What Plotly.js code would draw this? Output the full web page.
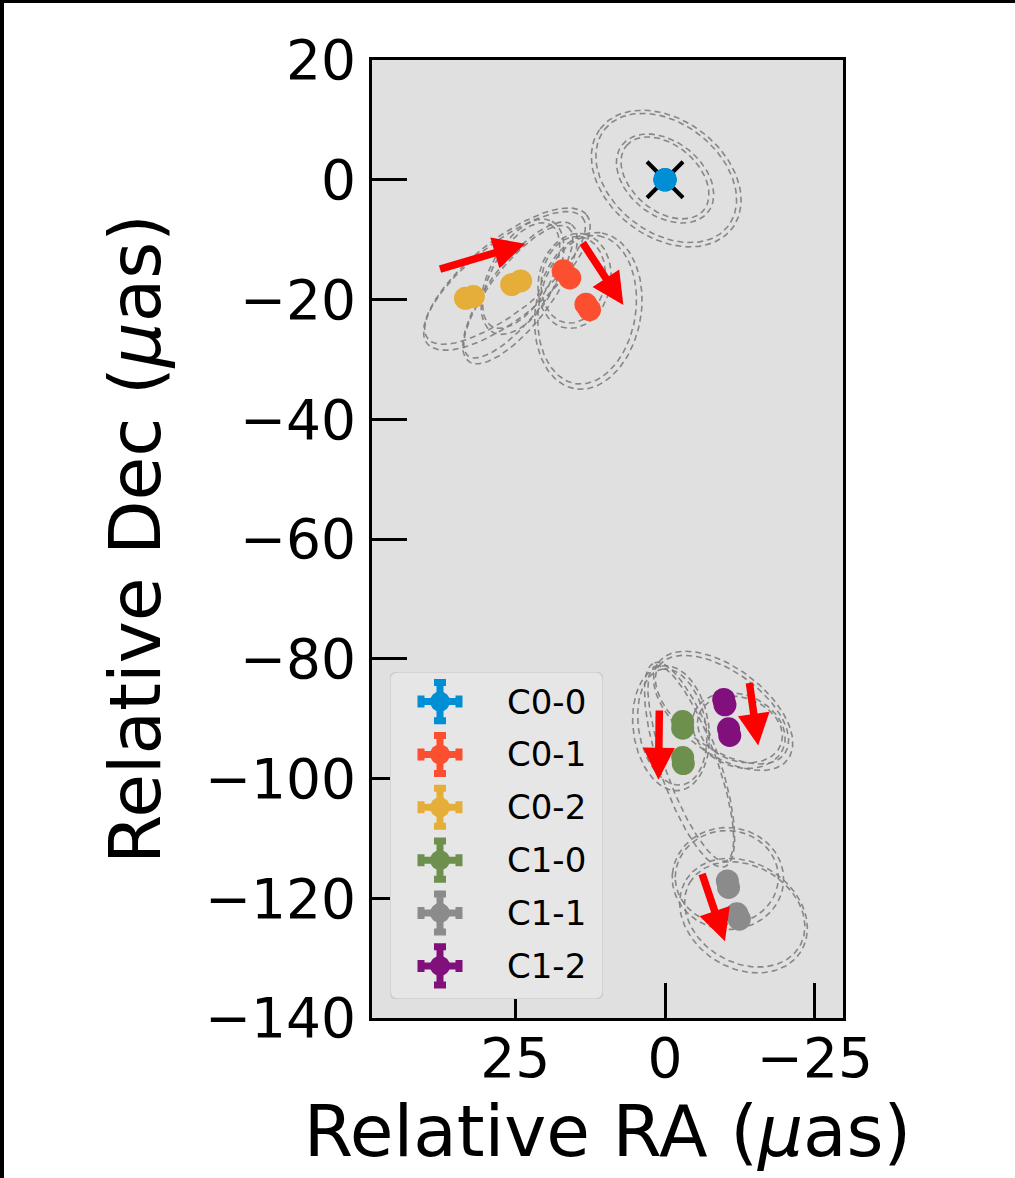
<!DOCTYPE html>
<html>
<head>
<meta charset="utf-8">
<script src="https://cdn.plot.ly/plotly-3.0.1.min.js"></script>
<style>
  html, body { margin: 0; padding: 0; background: #fff; }
  #frame { position: relative; width: 1015px; height: 1178px; overflow: hidden; }
  #chart { position: absolute; left: 0; top: 0; width: 1015px; height: 1178px; }
  .edge { position: absolute; background: #000; z-index: 5; }
</style>
</head>
<body>
<div id="frame">
  <div id="chart"></div>
  <div class="edge" style="left:0;top:0;width:4px;height:1178px;"></div>
  <div class="edge" style="left:0;top:0;width:1015px;height:3px;"></div>
</div>
<script>
// Component labels and colours
const components = ['C0-0', 'C0-1', 'C0-2', 'C1-0', 'C1-1', 'C1-2'];
const colors = ['#008fd5', '#fc4f30', '#e5ae38', '#6d904f', '#8b8b8b', '#810f7c'];

// Fitted positions per component (relative RA, relative Dec, in µas)
const raC00 = [0, 0, 0, 0];
const decC00 = [0, 0, 0, 0];
const raC01 = [17.0, 15.9, 13.2, 12.6];
const decC01 = [-15.2, -16.4, -20.8, -21.7];
const raC02 = [33.3, 32.0, 25.6, 24.1];
const decC02 = [-19.8, -19.5, -17.5, -16.9];
const raC10 = [-2.95, -2.95, -2.95, -3.05];
const decC10 = [-90.5, -91.6, -96.5, -97.5];
const raC11 = [-10.4, -10.6, -12.0, -12.4];
const decC11 = [-117.1, -118.2, -122.6, -123.5];
const raC12 = [-9.8, -10.0, -10.6, -10.8];
const decC12 = [-86.8, -87.7, -91.7, -92.8];

const raAll = [raC00, raC01, raC02, raC10, raC11, raC12];
const decAll = [decC00, decC01, decC02, decC10, decC11, decC12];

// Proper-motion arrows: tail RA, tail Dec, head RA, head Dec
const arrowTailRA = [37.8, 13.9, 0.95, -14.05, -6.1];
const arrowTailDec = [-15.0, -10.3, -88.4, -83.8, -115.7];
const arrowHeadRA = [23.3, 6.95, 1.1, -15.55, -10.0];
const arrowHeadDec = [-10.7, -20.9, -100.2, -94.5, -127.2];

// Positional uncertainty ellipses: centre RA, centre Dec, semi-major, semi-minor, angle (deg, from +RA toward +Dec)
const ellRA = [0, 0, -0.2, -0.2,
               26.7, 26.4, 24.5, 24.2, 13.0, 12.8, 15.3, 15.1, 24.0, 23.8,
               -4.3, -4.1, -1.2, -1.0, -9.5, -9.7, -12.5, -12.3, -10.3, -10.5, -13.3, -13.1];
const ellDec = [0.3, 0.2, 0.3, 0.2,
                -16.4, -16.6, -18.7, -18.9, -21.7, -21.9, -16.7, -16.9, -16.0, -16.2,
                -97.5, -97.7, -91.4, -91.6, -88.5, -88.7, -91.8, -92.0, -116.5, -116.7, -122.7, -122.9];
const ellA = [8.4, 9.1, 13.1, 13.8,
              16.4, 17.1, 13.6, 14.3, 12.5, 13.2, 7.3, 8.0, 9.8, 10.5,
              17.3, 18.0, 9.8, 10.5, 12.8, 13.5, 7.3, 8.0, 8.6, 9.3, 10.6, 11.3];
const ellB = [5.5, 6.2, 9.1, 9.8,
              5.8, 6.5, 4.5, 5.2, 8.1, 8.8, 5.3, 6.0, 4.8, 5.5,
              4.3, 5.0, 5.6, 6.3, 6.5, 7.2, 5.3, 6.0, 7.8, 8.5, 8.1, 8.8];
const ellPA = [40, 38, 38, 37,
               142, 141, 128, 127, 99, 100, 100, 102, 120, 118,
               70, 71, 80, 82, 35, 37, 20, 22, 0, 5, 30, 32];

const traces = [];

// Dashed uncertainty ellipses
for (let k = 0; k < ellRA.length; k++) {
  const xs = [], ys = [];
  const phi = ellPA[k] * Math.PI / 180;
  for (let i = 0; i <= 120; i++) {
    const t = 2 * Math.PI * i / 120;
    xs.push(ellRA[k] + ellA[k] * Math.cos(phi) * Math.cos(t) - ellB[k] * Math.sin(phi) * Math.sin(t));
    ys.push(ellDec[k] + ellA[k] * Math.sin(phi) * Math.cos(t) + ellB[k] * Math.cos(phi) * Math.sin(t));
  }
  traces.push({
    x: xs, y: ys, type: 'scatter', mode: 'lines', hoverinfo: 'skip', showlegend: false,
    line: { color: 'rgba(125,125,125,0.9)', width: 1.6, dash: '6px,4px' }
  });
}

// Reference cross at the core
traces.push({
  x: [raC00[0]], y: [decC00[0]], type: 'scatter', mode: 'markers', showlegend: false, hoverinfo: 'skip',
  marker: { symbol: 'x-thin', size: 36, line: { color: '#000', width: 4 } }
});

// Component positions
for (let c = 0; c < components.length; c++) {
  traces.push({
    x: raAll[c], y: decAll[c], type: 'scatter', mode: 'markers', name: components[c], showlegend: false,
    marker: { color: colors[c], size: 23, line: { width: 0 } }
  });
}

// Legend entries drawn on an overlay axis pair
for (let c = 0; c < components.length; c++) {
  traces.push({
    x: [50], y: [29.5 + 52.7 * c], xaxis: 'x2', yaxis: 'y2', type: 'scatter', mode: 'markers',
    showlegend: false, hoverinfo: 'skip',
    marker: { color: colors[c], size: 20 },
    error_x: { type: 'constant', value: 19, color: colors[c], thickness: 7, width: 6 },
    error_y: { type: 'constant', value: 19, color: colors[c], thickness: 7, width: 6 }
  });
}

const annotations = [];
for (let k = 0; k < arrowTailRA.length; k++) {
  annotations.push({
    x: arrowHeadRA[k], y: arrowHeadDec[k], ax: arrowTailRA[k], ay: arrowTailDec[k],
    xref: 'x', yref: 'y', axref: 'x', ayref: 'y', text: '', showarrow: true,
    arrowhead: 2, arrowsize: 0.85, arrowwidth: 7.5, arrowcolor: '#ff0000', standoff: 0, startstandoff: 0
  });
}
for (let c = 0; c < components.length; c++) {
  annotations.push({
    x: 115, y: 29.5 + 52.7 * c, xref: 'x2', yref: 'y2', text: components[c], showarrow: false,
    xanchor: 'left', yanchor: 'middle', font: { family: 'DejaVu Sans', size: 34, color: '#000' }
  });
}

const r = 8;
const legendBox = 'M ' + r + ',0 L ' + (213 - r) + ',0 Q 213,0 213,' + r +
  ' L 213,' + (326 - r) + ' Q 213,326 ' + (213 - r) + ',326 L ' + r + ',326 Q 0,326 0,' + (326 - r) +
  ' L 0,' + r + ' Q 0,0 ' + r + ',0 Z';

const layout = {
  width: 1015, height: 1178,
  margin: { l: 372, r: 172, t: 60, b: 160 },
  paper_bgcolor: '#ffffff',
  plot_bgcolor: '#e0e0e0',
  showlegend: false,
  font: { family: 'DejaVu Sans', color: '#000' },
  xaxis: {
    range: [48.9, -29.7], tickvals: [25, 0, -25], ticks: 'inside', ticklen: 35, tickwidth: 3, tickcolor: '#000',
    showline: true, linewidth: 3, linecolor: '#000', mirror: true, showgrid: false, zeroline: false,
    tickfont: { family: 'DejaVu Sans', size: 55, color: '#000' }, ticklabelstandoff: -10,
    title: { text: 'Relative RA (<i>μ</i>as)', font: { family: 'DejaVu Sans', size: 71, color: '#000' }, standoff: 4 }
  },
  yaxis: {
    range: [-140, 20], tickvals: [-140, -120, -100, -80, -60, -40, -20, 0, 20], ticks: 'inside', ticklen: 35,
    tickwidth: 3, tickcolor: '#000',
    showline: true, linewidth: 3, linecolor: '#000', mirror: true, showgrid: false, zeroline: false,
    tickfont: { family: 'DejaVu Sans', size: 55, color: '#000' }, ticklabelstandoff: 2,
    title: { text: 'Relative Dec (<i>μ</i>as)', font: { family: 'DejaVu Sans', size: 71, color: '#000' }, standoff: 22 }
  },
  xaxis2: { domain: [0.0382, 0.4904], range: [0, 213], visible: false, fixedrange: true, anchor: 'y2' },
  yaxis2: { domain: [0.0198, 0.3612], range: [326, 0], visible: false, fixedrange: true, anchor: 'x2' },
  shapes: [{
    type: 'path', xref: 'x2', yref: 'y2', path: legendBox, layer: 'below',
    fillcolor: 'rgba(230,230,230,0.85)', line: { color: 'rgba(205,205,205,1)', width: 1.5 }
  }],
  annotations: annotations
};

Plotly.newPlot('chart', traces, layout, { staticPlot: true, displayModeBar: false });
</script>
</body>
</html>
